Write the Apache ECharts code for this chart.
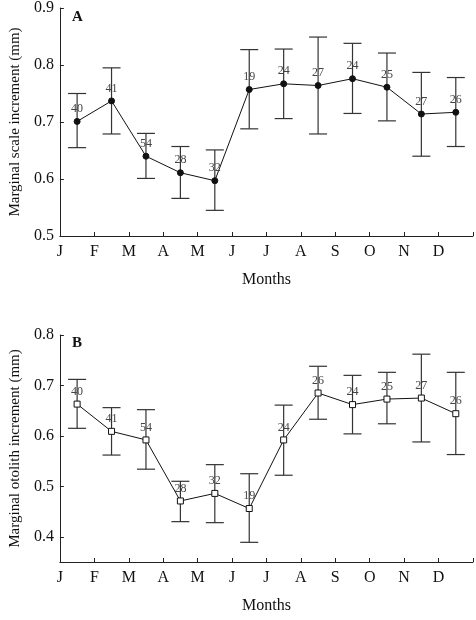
<!DOCTYPE html><html><head><meta charset="utf-8">
<script src="https://cdn.jsdelivr.net/npm/echarts@6/dist/echarts.min.js"></script>
<style>html,body{margin:0;padding:0;background:#fff}#c{width:476px;height:620px}</style></head><body><div id="c"></div>
<script>
const months=['J','F','M','A','M','J','J','A','S','O','N','D'];
const scaleMean=[0.701,0.737,0.640,0.611,0.597,0.757,0.767,0.764,0.776,0.761,0.714,0.717];
const scaleLo=[0.655,0.679,0.601,0.566,0.545,0.688,0.706,0.679,0.715,0.702,0.640,0.657];
const scaleHi=[0.750,0.795,0.680,0.657,0.651,0.827,0.828,0.849,0.838,0.821,0.787,0.778];
const scaleN=[40,41,54,28,32,19,24,27,24,25,27,26];
const otoMean=[0.663,0.609,0.592,0.471,0.486,0.456,0.592,0.685,0.662,0.673,0.675,0.644];
const otoLo=[0.615,0.562,0.534,0.430,0.428,0.389,0.522,0.633,0.604,0.624,0.588,0.563];
const otoHi=[0.712,0.656,0.652,0.510,0.543,0.525,0.661,0.738,0.720,0.726,0.762,0.726];
const otoN=[40,41,54,28,32,19,24,26,24,25,27,26];
const F='Liberation Serif';
const ch=echarts.init(document.getElementById('c'));
function xAx(gi){return {type:'value',gridIndex:gi,min:0,max:12,interval:1,
 name:'Months',nameLocation:'middle',nameGap:36,nameTextStyle:{fontFamily:F,fontSize:16,color:'#111'},
 axisLine:{lineStyle:{color:'#222'}},axisTick:{inside:true,length:4,lineStyle:{color:'#222'}},splitLine:{show:false},
 axisLabel:{fontFamily:F,fontSize:16,color:'#111',margin:8,formatter:v=>months[v]||''}};}
function yAx(gi,min,max,name,custom){const a={type:'value',gridIndex:gi,min:min,max:max,
 name:name,nameLocation:'middle',nameGap:35,nameTextStyle:{fontFamily:F,fontSize:15,color:'#111'},
 axisLine:{show:true,lineStyle:{color:'#222'}},axisTick:{show:true,inside:true,length:4,lineStyle:{color:'#222'}},splitLine:{show:false},
 axisLabel:{fontFamily:F,fontSize:16,color:'#111',margin:6,formatter:v=>v.toFixed(1)}};
 if(custom){a.axisLabel.customValues=custom;a.axisTick.customValues=custom;}else a.interval=0.1;return a;}
function series(gi,mean,lo,hi,n,sym,fill){
 const pts=mean.map((v,i)=>[i+0.5,v]);
 return [
 {type:'custom',xAxisIndex:gi,yAxisIndex:gi,data:mean.map((v,i)=>[i+0.5,lo[i],hi[i]]),z:2,
  renderItem:(p,api)=>{const a=api.coord([api.value(0),api.value(1)]),b=api.coord([api.value(0),api.value(2)]);const w=9;
   const st={stroke:'#333',lineWidth:1.2};
   return {type:'group',children:[{type:'line',shape:{x1:a[0],y1:a[1],x2:b[0],y2:b[1]},style:st},
    {type:'line',shape:{x1:a[0]-w,y1:a[1],x2:a[0]+w,y2:a[1]},style:st},
    {type:'line',shape:{x1:b[0]-w,y1:b[1],x2:b[0]+w,y2:b[1]},style:st}]};}},
 {type:'line',xAxisIndex:gi,yAxisIndex:gi,data:pts,symbol:sym,symbolSize:sym==='circle'?6:6,z:3,
  lineStyle:{color:'#111',width:1},itemStyle:{color:fill,borderColor:'#111',borderWidth:1},
  label:{show:true,position:'top',distance:3,fontFamily:F,fontSize:12,color:'#444',formatter:p=>n[p.dataIndex]}}];}
ch.setOption({animation:false,
 grid:[{left:49,right:2,top:8,height:228},{left:49,right:2,top:335,height:227}],
 xAxis:[xAx(0),xAx(1)],
 yAxis:[yAx(0,0.5,0.9,'Marginal scale increment (mm)'),yAx(1,0.35,0.8,'Marginal otolith increment (mm)',[0.4,0.5,0.6,0.7,0.8])],
 graphic:[{type:'text',left:72,top:10,style:{text:'A',font:'bold 15px "Liberation Serif"',fill:'#111'}},
  {type:'text',left:72,top:336,style:{text:'B',font:'bold 15px "Liberation Serif"',fill:'#111'}}],
 series:[...series(0,scaleMean,scaleLo,scaleHi,scaleN,'circle','#111'),...series(1,otoMean,otoLo,otoHi,otoN,'rect','#fff')]});
</script></body></html>
